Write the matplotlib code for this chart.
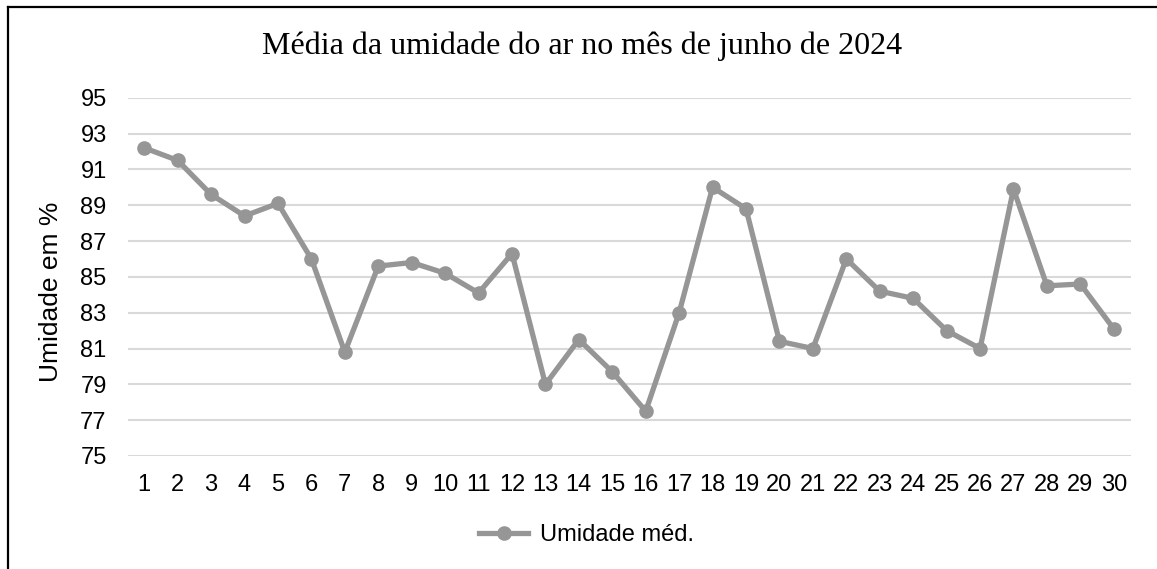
import matplotlib.pyplot as plt
from matplotlib.lines import Line2D

dias = list(range(1, 31))
umidade = [92.2, 91.5, 89.6, 88.4, 89.1, 86.0, 80.8, 85.6, 85.8, 85.2,
           84.1, 86.3, 79.0, 81.5, 79.7, 77.5, 83.0, 90.0, 88.8, 81.4,
           81.0, 86.0, 84.2, 83.8, 82.0, 81.0, 89.9, 84.5, 84.6, 82.1]
yticks = list(range(75, 96, 2))

cinza = '#969696'

fig = plt.figure(figsize=(11.57, 5.69), dpi=100)
ax = fig.add_axes([0.1102, 0.1986, 0.8669, 0.6297])

ax.plot(dias, umidade, '-o', color=cinza, lw=3.8, markersize=9.5,
        label='Umidade méd.', zorder=3)

ax.set_xlim(0.5, 30.5)
ax.set_ylim(75, 95)
ax.set_xticks(dias)
ax.set_yticks(yticks)
ax.grid(axis='y', color='#d9d9d9', lw=1.5)
ax.set_axisbelow(True)
for s in ax.spines.values():
    s.set_visible(False)
ax.tick_params(length=0, labelsize=17)
ax.tick_params(axis='x', pad=13)
ax.tick_params(axis='y', pad=15)
for lab in ax.get_xticklabels() + ax.get_yticklabels():
    lab.set_family('Liberation Sans')

fig.text(51.5 / 1157, 1 - 292 / 569, 'Umidade em %', rotation=90,
         ha='center', va='center', fontsize=19, family='Liberation Sans')

fig.text(0.503, 0.918, 'Média da umidade do ar no mês de junho de 2024',
         ha='center', va='center', fontsize=23, family='Liberation Serif')

fig.legend(loc='center', bbox_to_anchor=(0.507, 0.06), frameon=False,
           prop={'family': 'Liberation Sans', 'size': 17},
           handlelength=2.1, handletextpad=0.5)

# frame around the chart (only top and left visible in reference)
fig.add_artist(Line2D([8 / 1157, 1], [1 - 7 / 569, 1 - 7 / 569],
                      transform=fig.transFigure, color='black', lw=1.6))
fig.add_artist(Line2D([8 / 1157, 8 / 1157], [0, 1 - 7 / 569],
                      transform=fig.transFigure, color='black', lw=1.6))

fig.savefig('out.png', dpi=100)
